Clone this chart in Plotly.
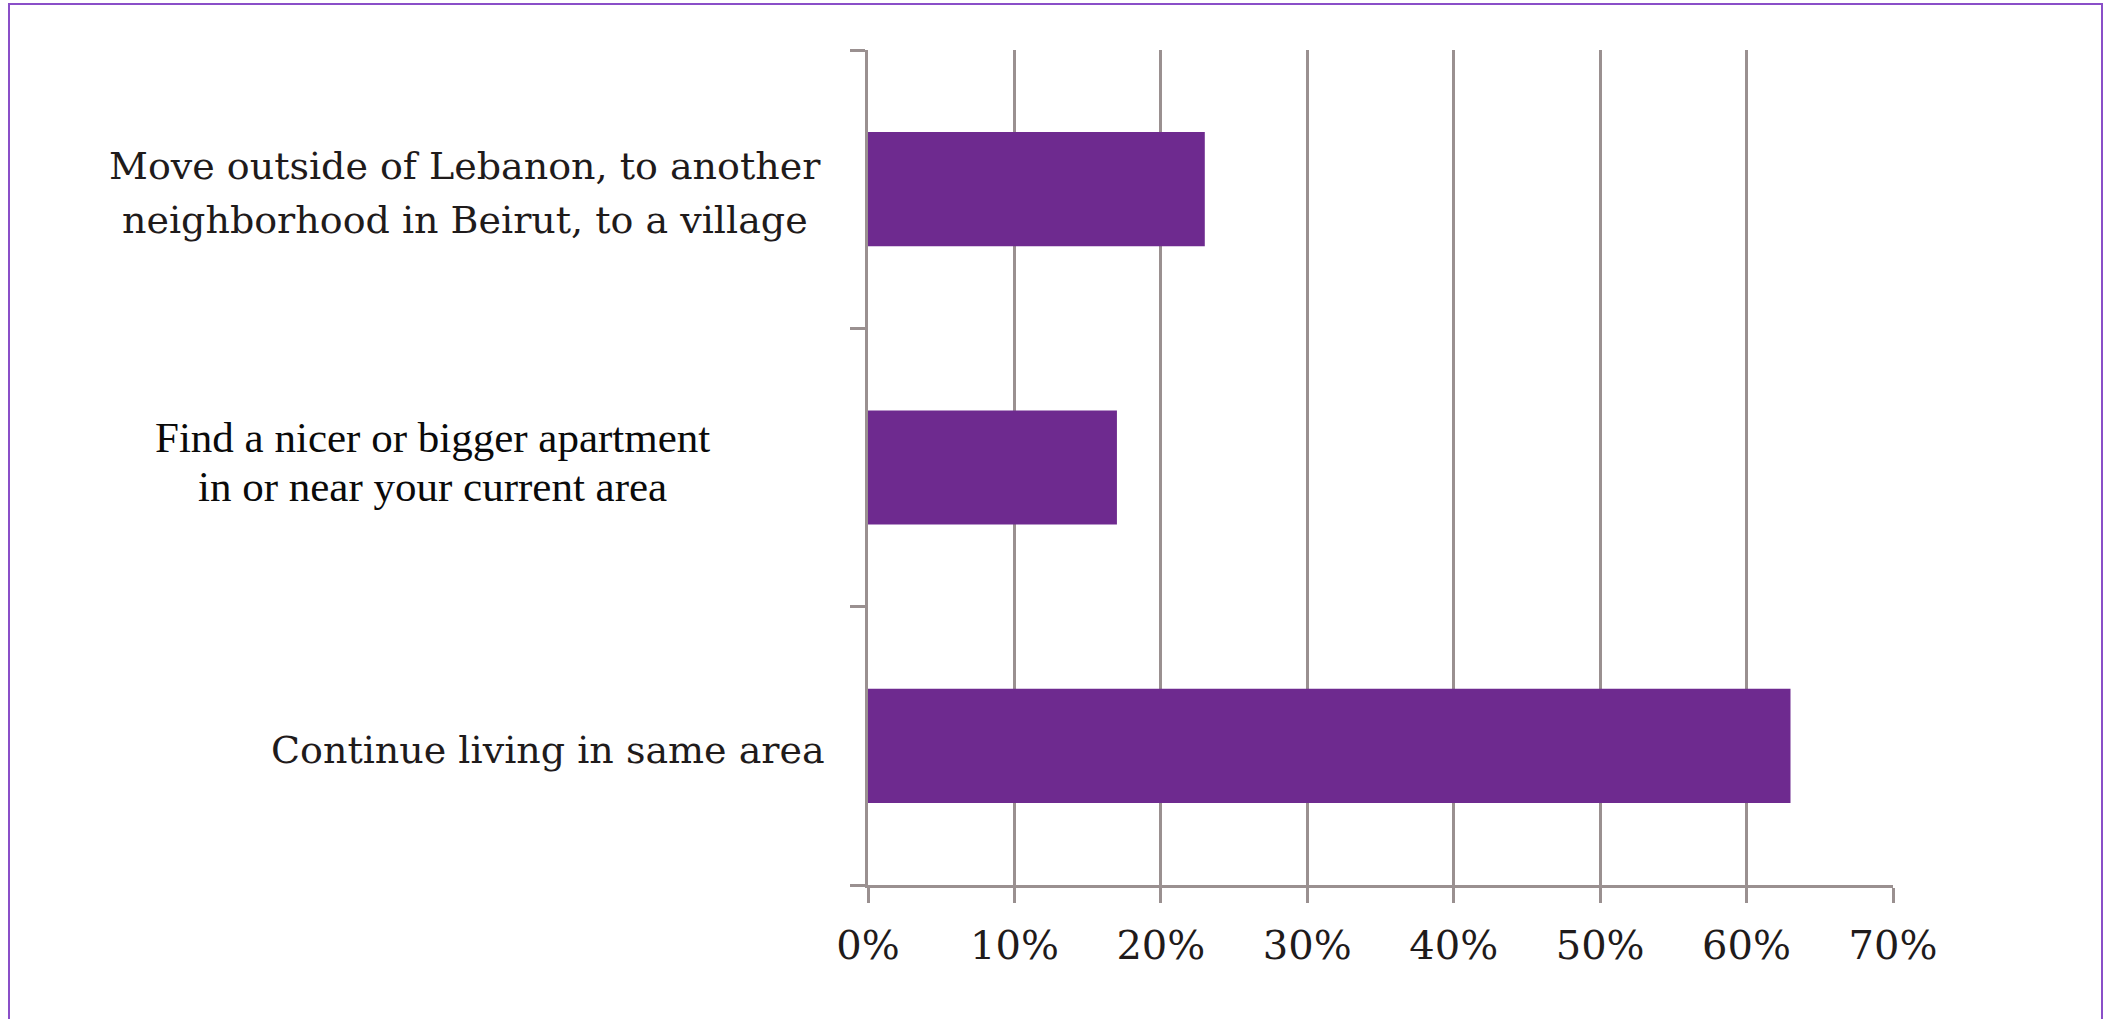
import plotly.graph_objects as go

# Survey responses: what respondents would like to do (share of respondents, %)
categories = [
    "Move outside of Lebanon, to another\nneighborhood in Beirut, to a village",
    "Find a nicer or bigger apartment\nin or near your current area",
    "Continue living in same area",
]
values = [23, 17, 63]
x_ticks = [0, 10, 20, 30, 40, 50, 60, 70]
x_tick_labels = ["0%", "10%", "20%", "30%", "40%", "50%", "60%", "70%"]

W, H = 2109, 1019
M_L, M_R, M_T, M_B = 868, 216, 50, 134
PLOT_W = W - M_L - M_R
PLOT_H = H - M_T - M_B

BAR_COLOR = "#6e2a8f"
GRID_COLOR = "#9a9090"
FRAME_COLOR = "#8a4fc8"
TEXT_COLOR = "#1f1b1b"

# label styling per category: font family, size, colour, centre x (px),
# vertical offset of the block (px, up positive) and line spacing (px)
label_style = {
    categories[0]: dict(family="DejaVu Serif", size=38, color=TEXT_COLOR, cx=465, dy=-4, gap=54),
    categories[1]: dict(family="Liberation Serif", size=43, color="#0a0a0a", cx=432, dy=6, gap=49),
    categories[2]: dict(family="DejaVu Serif", size=38, color=TEXT_COLOR, cx=548, dy=-4, gap=0),
}

fig = go.Figure(
    go.Bar(
        x=values,
        y=categories,
        orientation="h",
        width=0.41,
        marker=dict(color=BAR_COLOR, line=dict(width=0)),
        hoverinfo="x+y",
    )
)

annotations = []
for cat in categories:
    st = label_style[cat]
    lines = cat.split("\n")
    n = len(lines)
    for i, line in enumerate(lines):
        shift = st["dy"] + ((n - 1) / 2 - i) * st["gap"]
        annotations.append(
            dict(
                text=line,
                xref="paper",
                yref="y",
                x=(st["cx"] - M_L) / PLOT_W,
                y=cat,
                xanchor="center",
                yanchor="middle",
                yshift=shift,
                showarrow=False,
                font=dict(family=st["family"], size=st["size"], color=st["color"]),
            )
        )

# thin purple frame around the figure (open at the bottom)
px = lambda v: (v - M_L) / PLOT_W
py = lambda v: (H - M_B - v) / PLOT_H
frame_path = "M {:.5f} {:.5f} L {:.5f} {:.5f} L {:.5f} {:.5f} L {:.5f} {:.5f}".format(
    px(9), py(H + 5), px(9), py(4), px(2102), py(4), px(2102), py(H + 5)
)

fig.update_layout(
    width=W,
    height=H,
    margin=dict(l=M_L, r=M_R, t=M_T, b=M_B, pad=0),
    paper_bgcolor="white",
    plot_bgcolor="white",
    showlegend=False,
    annotations=annotations,
    shapes=[
        dict(
            type="path",
            path=frame_path,
            xref="paper",
            yref="paper",
            line=dict(color=FRAME_COLOR, width=2),
            layer="above",
        )
    ],
    xaxis=dict(
        range=[0, 70],
        tickvals=x_ticks,
        ticktext=x_tick_labels,
        showgrid=True,
        gridcolor=GRID_COLOR,
        gridwidth=2.5,
        showline=True,
        linecolor=GRID_COLOR,
        linewidth=2.5,
        ticks="outside",
        ticklen=15,
        tickwidth=2.5,
        tickcolor=GRID_COLOR,
        ticklabelstandoff=8,
        tickfont=dict(family="DejaVu Serif", size=40, color=TEXT_COLOR),
        zeroline=False,
        fixedrange=True,
    ),
    yaxis=dict(
        categoryorder="array",
        categoryarray=categories[::-1],
        range=[-0.5, 2.5],
        showticklabels=False,
        showgrid=False,
        showline=True,
        linecolor=GRID_COLOR,
        linewidth=2.5,
        ticks="outside",
        tickson="boundaries",
        ticklen=15,
        tickwidth=2.5,
        tickcolor=GRID_COLOR,
        zeroline=False,
        fixedrange=True,
    ),
)

fig.write_html("out.html", config={"displayModeBar": False})
